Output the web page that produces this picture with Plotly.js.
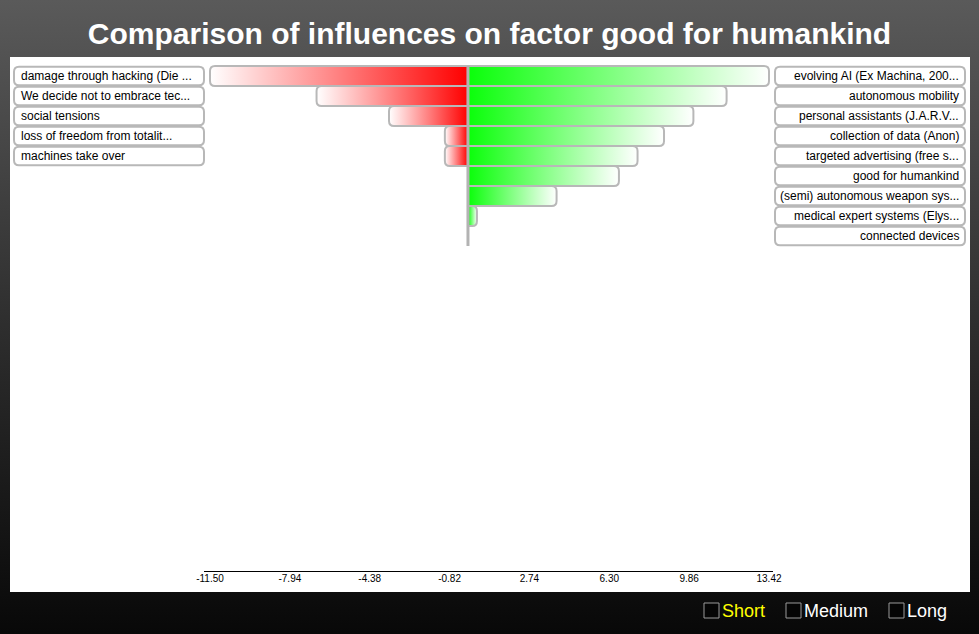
<!DOCTYPE html>
<html>
<head>
<meta charset="utf-8">
<script src="https://cdn.plot.ly/plotly-3.0.1.min.js"></script>
<style>
  html, body { margin: 0; padding: 0; width: 979px; height: 634px; overflow: hidden;
    background: linear-gradient(to bottom, #5a5a5a 0%, #2f2f2f 50%, #080808 100%); }
  #chart { width: 979px; height: 634px; }
</style>
</head>
<body>
<div id="chart"></div>
<script>
// ---- data ----
const titleText = "Comparison of influences on factor good for humankind";
const leftLabels = [
  "damage through hacking (Die ...",
  "We decide not to embrace tec...",
  "social tensions",
  "loss of freedom from totalit...",
  "machines take over"
];
const leftValues = [-11.50, -6.75, -3.52, -1.03, -1.03];
const rightLabels = [
  "evolving AI (Ex Machina, 200...",
  "autonomous mobility",
  "personal assistants (J.A.R.V...",
  "collection of data (Anon)",
  "targeted advertising (free s...",
  "good for humankind",
  "(semi) autonomous weapon sys...",
  "medical expert systems (Elys...",
  "connected devices"
];
const rightValues = [13.42, 11.53, 10.05, 8.74, 7.56, 6.73, 3.95, 0.40, 0.00];
const tickVals = [-11.50, -7.94, -4.38, -0.82, 2.74, 6.30, 9.86, 13.42];
const tickText = ["-11.50", "-7.94", "-4.38", "-0.82", "2.74", "6.30", "9.86", "13.42"];
const legendItems = ["Short", "Medium", "Long"];

// ---- geometry helpers (layout only) ----
const W = 979, H = 634;
const M = { l: 10, r: 9, t: 57, b: 42 };
const PW = W - M.l - M.r, PH = H - M.t - M.b;
const px = x => (x - M.l) / PW;
const py = y => (H - M.b - y) / PH;
const FONT = '"Liberation Sans", Arial, Helvetica, sans-serif';

const RED = 'rgb(255,0,0)';
const GREEN = 'rgb(10,255,10)';

const nRows = Math.max(leftValues.length, rightValues.length);
const xmin = Math.min(...leftValues), xmax = Math.max(...rightValues);
// bars span pixel 210..769 ; axis line a bit wider
const scale = (769 - 210) / (xmax - xmin);   // px per unit
const axL = 204, axR = 773;
const xRange = [xmin - (210 - axL) / scale, xmax + (axR - 769) / scale];

const traces = [];
leftValues.forEach((v, i) => {
  traces.push({
    type: 'scatter', mode: 'none', fill: 'toself', hoverinfo: 'skip', showlegend: false,
    x: [v, 0, 0, v, v], y: [i - 0.5, i - 0.5, i + 0.5, i + 0.5, i - 0.5],
    fillgradient: { type: 'horizontal', start: v, stop: 0,
      colorscale: [[0, 'rgb(255,255,255)'], [1, RED]] }
  });
});
rightValues.forEach((v, i) => {
  if (v <= 0) return;
  traces.push({
    type: 'scatter', mode: 'none', fill: 'toself', hoverinfo: 'skip', showlegend: false,
    x: [0, v, v, 0, 0], y: [i - 0.5, i - 0.5, i + 0.5, i + 0.5, i - 0.5],
    fillgradient: { type: 'horizontal', start: 0, stop: v,
      colorscale: [[0, GREEN], [1, 'rgb(255,255,255)']] }
  });
});

function roundRect(x0, x1, y0, y1, rx, ry) {
  return `M ${x0 + rx},${y0} L ${x1 - rx},${y0} Q ${x1},${y0} ${x1},${y0 + ry} ` +
    `L ${x1},${y1 - ry} Q ${x1},${y1} ${x1 - rx},${y1} L ${x0 + rx},${y1} ` +
    `Q ${x0},${y1} ${x0},${y1 - ry} L ${x0},${y0 + ry} Q ${x0},${y0} ${x0 + rx},${y0} Z`;
}
function barOutline(v, i) {
  const s = Math.sign(v);
  const rx = Math.min(5 / scale, Math.abs(v) / 2) * s;
  const ry = 0.25, y0 = i - 0.5, y1 = i + 0.5;
  return `M 0,${y0} L ${v - rx},${y0} Q ${v},${y0} ${v},${y0 + ry} L ${v},${y1 - ry} ` +
    `Q ${v},${y1} ${v - rx},${y1} L 0,${y1} Z`;
}

const shapes = [];
const annotations = [];
// white panel
shapes.push({ type: 'rect', xref: 'paper', yref: 'paper', x0: 0, x1: 1, y0: 0, y1: 1,
  fillcolor: '#ffffff', line: { width: 0 }, layer: 'below' });

// bar outlines
[leftValues, rightValues].forEach(vals => vals.forEach((v, i) => {
  if (v === 0) return;
  shapes.push({ type: 'path', xref: 'x', yref: 'y', layer: 'above', path: barOutline(v, i),
    fillcolor: 'rgba(0,0,0,0)', line: { color: '#b8b8b8', width: 2 } });
}));

const rx = 5 / PW, ry = 0.25;
leftLabels.forEach((t, i) => {
  shapes.push({ type: 'path', xref: 'paper', yref: 'y', layer: 'above',
    path: roundRect(px(14), px(204), i - 0.46, i + 0.46, rx, ry),
    fillcolor: '#ffffff', line: { color: '#b8b8b8', width: 2 } });
  annotations.push({ xref: 'paper', yref: 'y', x: px(19), y: i, xanchor: 'left', yanchor: 'middle',
    text: t, showarrow: false, font: { family: FONT, size: 12, color: '#000' } });
});
rightLabels.forEach((t, i) => {
  shapes.push({ type: 'path', xref: 'paper', yref: 'y', layer: 'above',
    path: roundRect(px(775), px(965), i - 0.46, i + 0.46, rx, ry),
    fillcolor: '#ffffff', line: { color: '#b8b8b8', width: 2 } });
  annotations.push({ xref: 'paper', yref: 'y', x: px(961), y: i, xanchor: 'right', yanchor: 'middle',
    text: t, showarrow: false, font: { family: FONT, size: 12, color: '#000' } });
});
// center line
shapes.push({ type: 'line', xref: 'x', yref: 'y', x0: 0, x1: 0, y0: -0.5, y1: nRows - 0.5,
  line: { color: '#b3b3b3', width: 3 }, layer: 'above' });

// bottom toggles
const boxX = [704, 786, 889];
legendItems.forEach((t, k) => {
  shapes.push({ type: 'rect', xref: 'paper', yref: 'paper',
    x0: px(boxX[k]), x1: px(boxX[k] + 15), y0: py(618), y1: py(603),
    fillcolor: '#050505', line: { color: '#9a9a9a', width: 1 } });
  annotations.push({ xref: 'paper', yref: 'paper', x: px(boxX[k] + 16), y: py(611),
    xanchor: 'left', yanchor: 'middle', text: t, showarrow: false,
    font: { family: FONT, size: 18, color: k === 0 ? '#ffff00' : '#ffffff' } });
});

const layout = {
  width: W, height: H,
  margin: M,
  paper_bgcolor: 'rgba(0,0,0,0)',
  plot_bgcolor: 'rgba(0,0,0,0)',
  showlegend: false,
  title: { text: '<b>' + titleText + '</b>', x: 0.5, xref: 'container', y: 1 - 33 / H, yref: 'container',
    yanchor: 'middle', font: { family: FONT, size: 30, color: '#ffffff' } },
  xaxis: {
    domain: [px(axL), px(axR)], range: xRange, anchor: 'y',
    showline: true, linecolor: '#000', linewidth: 1, showgrid: false, zeroline: false,
    tickmode: 'array', tickvals: tickVals, ticktext: tickText, ticks: '', ticklen: 0,
    ticklabelstandoff: -2,
    tickfont: { family: FONT, size: 10, color: '#000' }, fixedrange: true
  },
  yaxis: {
    domain: [py(571), 1], range: [(571 - 76) / 20, (57 - 76) / 20],
    visible: false, showgrid: false, zeroline: false, fixedrange: true
  },
  shapes: shapes,
  annotations: annotations,
  font: { family: FONT }
};

Plotly.newPlot('chart', traces, layout, { displayModeBar: false, staticPlot: true });
</script>
</body>
</html>
